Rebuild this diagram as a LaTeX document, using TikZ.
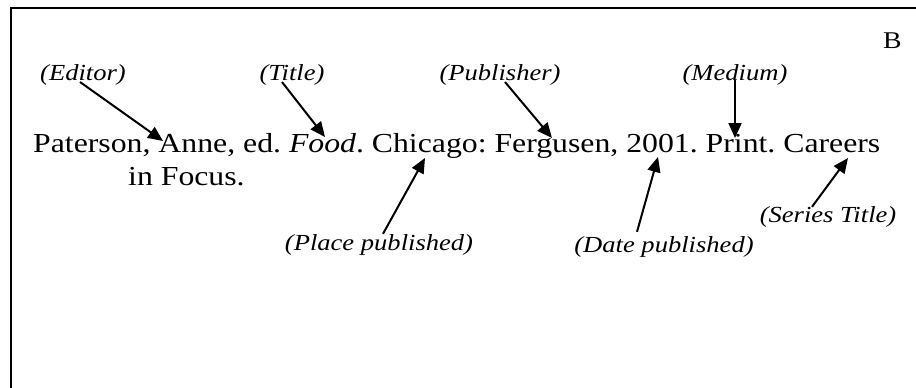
\documentclass[tikz,border=0pt]{standalone}
\usepackage{fontspec}
\setmainfont{Liberation Serif}[FakeStretch=1.155]
\usetikzlibrary{arrows.meta}
\frenchspacing

\begin{document}
\begin{tikzpicture}[x=1pt, y=-1pt,
    entry/.style={anchor=base west, inner sep=0pt, font=\fontsize{27.5}{32}\selectfont},
    role/.style={anchor=base, inner sep=0pt, font=\fontsize{23}{27}\selectfont\itshape},
    pointer/.style={-{Triangle[length=15pt,width=13pt]}, line width=2pt}]
    \useasboundingbox (0,0) rectangle (916,388);
    \draw[line width=2pt] (11,388) |- (916,8);

    \node[entry] (line1) at (33,152) {Paterson, Anne, ed. \textit{Food}. Chicago: Fergusen, 2001. Print. Careers};
    \node[entry] (line2) at (128,185) {in Focus.};
    \node[entry, font=\fontsize{24}{28}\selectfont] (page) at (883,48) {B};

    \node[role] (editor) at (83,80) {(Editor)};
    \node[role] (title) at (292,80) {(Title)};
    \node[role] (publisher) at (500,80) {(Publisher)};
    \node[role] (medium) at (735,80) {(Medium)};
    \node[role] (place) at (379,250) {(Place published)};
    \node[role] (date) at (664,252) {(Date published)};
    \node[role] (series) at (828,222) {(Series Title)};

    \coordinate (editor tip) at (163,141);
    \coordinate (title tip) at (325,137);
    \coordinate (publisher tip) at (552,138);
    \coordinate (medium tip) at (735,138);
    \coordinate (place tip) at (425,158);
    \coordinate (date tip) at (658,157);
    \coordinate (series tip) at (848,158);

    \draw[pointer] ([xshift=-3pt,yshift=-2pt]editor.base) -- (editor tip);
    \draw[pointer] ([xshift=-10pt,yshift=-2pt]title.base) -- (title tip);
    \draw[pointer] ([xshift=5pt,yshift=-2pt]publisher.base) -- (publisher tip);
    \draw[pointer] (medium.base) -- (medium tip);
    \draw[pointer] ([xshift=4pt]place.north) -- (place tip);
    \draw[pointer] ([xshift=-27pt,yshift=4pt]date.north) -- (date tip);
    \draw[pointer] ([xshift=-16pt,yshift=-1pt]series.north) -- (series tip);
\end{tikzpicture}
\end{document}
